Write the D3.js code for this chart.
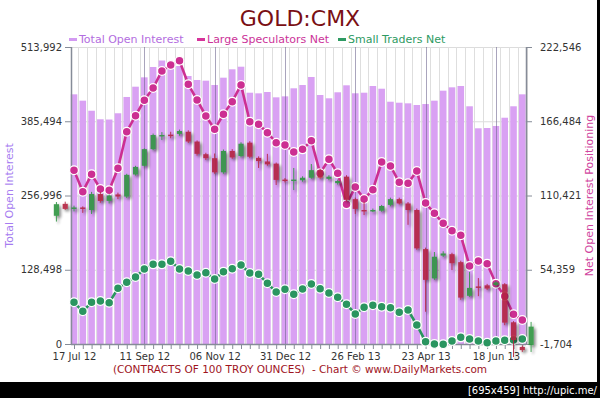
<!DOCTYPE html>
<html>
<head>
<meta charset="utf-8">
<script src="https://cdn.jsdelivr.net/npm/d3@7"></script>
<style>
  body { margin: 0; background: #fff; }
  svg { display: block; font-family: "DejaVu Sans", Verdana, sans-serif; }
</style>
</head>
<body>
<svg></svg>
<script>
// weekly COT data, first report week
const firstWeek = "2012-07-17";

const openInterest = [432100, 421100, 403700, 388900, 388500, 399300, 427500, 445300, 461500, 479400,
  490600, 488000, 481100, 463800, 456900, 455700, 448200, 460900, 475400, 479900,
  434900, 433800, 436100, 426900, 428600, 442500, 448200, 462100, 430900, 425200,
  435600, 447700, 433900, 434900, 446500, 441800, 419300, 417600, 416500, 413600,
  415300, 421100, 438400, 444200, 446500, 411400, 373300, 373800, 377300, 391600,
  411400, 432100];

const largeSpeculators = [129450, 113290, 126430, 115330, 114350, 130960, 158590, 170670, 182300, 191590,
  204420, 208950, 212200, 194380, 182530, 170450, 160410, 171730, 181250, 193860,
  166150, 164180, 157840, 150290, 148550, 143270, 145300, 151790, 127180, 137750,
  127180, 103770, 116840, 107780, 114800, 135720, 132700, 120390, 119640, 128920,
  104760, 96980, 89430, 83850, 80370, 57190, 60970, 58930, 43830, 34310,
  20720, 16420];

const smallTraders = [29780, 22990, 29780, 30760, 29480, 40350, 44880, 48880, 54920, 58470,
  58470, 60740, 54920, 53410, 50390, 52130, 47380, 52890, 55150, 57950,
  51900, 50920, 44130, 37560, 39600, 35820, 39830, 43600, 40050, 36800,
  33560, 28270, 20950, 26010, 27520, 26460, 25710, 22230, 23970, 12640,
  30, -1700, -1930, 560, 3350, 2070, 560, -720, 560, 1090,
  1320, 2070];

// weekly gold price candles (unlabelled overlay), first candle week
const candleStart = "2012-07-03";
const candleOpen = [1554, 1587, 1573, 1577, 1570, 1614, 1595, 1613, 1607, 1668, 1692, 1738, 1776, 1778, 1780,
  1786, 1759, 1724, 1713, 1674, 1733, 1719, 1756, 1714, 1704, 1698, 1654, 1651, 1652, 1659,
  1680, 1656, 1644, 1662, 1600, 1570, 1568, 1568, 1584, 1600, 1588, 1570, 1462, 1381, 1444,
  1448, 1426, 1333, 1359, 1362, 1363, 1365, 1260, 1192, 1197];
const candleClose = [1586, 1573, 1577, 1573, 1614, 1595, 1610, 1607, 1667, 1689, 1738, 1777, 1777, 1777, 1788,
  1759, 1725, 1713, 1674, 1733, 1715, 1753, 1717, 1705, 1696, 1653, 1651, 1654, 1659, 1680,
  1659, 1662, 1650, 1598, 1573, 1568, 1570, 1581, 1600, 1588, 1570, 1464, 1377, 1441, 1450,
  1423, 1328, 1355, 1356, 1353, 1370, 1259, 1211, 1183, 1248];
const candleHigh = [1592, 1593, 1582, 1580, 1620, 1620, 1613, 1618, 1670, 1692, 1740, 1781, 1785, 1786, 1792,
  1790, 1762, 1728, 1726, 1737, 1738, 1757, 1760, 1718, 1725, 1701, 1658, 1686, 1663, 1697,
  1684, 1666, 1654, 1666, 1604, 1593, 1574, 1584, 1604, 1604, 1592, 1574, 1466, 1454, 1456,
  1452, 1430, 1399, 1382, 1366, 1374, 1368, 1263, 1196, 1261];
const candleLow = [1538, 1570, 1566, 1562, 1559, 1590, 1588, 1600, 1603, 1665, 1690, 1735, 1763, 1768, 1775,
  1755, 1720, 1708, 1670, 1670, 1711, 1715, 1713, 1686, 1692, 1639, 1646, 1625, 1648, 1656,
  1655, 1652, 1640, 1593, 1559, 1556, 1564, 1565, 1580, 1585, 1529, 1460, 1289, 1377, 1440,
  1404, 1322, 1330, 1332, 1349, 1360, 1252, 1164, 1178, 1178];

const leftTicks = [0, 128498, 256996, 385494, 513992];
const rightTicks = [-1704, 54359, 110421, 166484, 222546];
// one label every 8 report weeks
const xTickLabels = ["17 Jul 12", "11 Sep 12", "06 Nov 12", "31 Dec 12", "26 Feb 13", "23 Apr 13", "18 Jun 13"];
const labelEvery = 8;

const width = 600, height = 398;
const plotLeft = 71, plotRight = 526, plotTop = 47, plotBottom = 344;

const parseDay = d3.utcParse("%Y-%m-%d");
const weeks = openInterest.map((d, i) => d3.utcDay.offset(parseDay(firstWeek), 7 * i));
const candleWeeks = candleOpen.map((d, i) => d3.utcDay.offset(parseDay(candleStart), 7 * i));
const majorWeeks = weeks.filter((d, i) => i % labelEvery === 0);

const fmt = d3.formatLocale({decimal: ".", thousands: ",", grouping: [3], currency: ["$", ""], minus: "-"}).format(",");

const x = d3.scaleUtc()
  .domain([weeks[0], weeks[weeks.length - 1]])
  .range([74, 522.3]);
const step = x(weeks[1]) - x(weeks[0]);

const yLeft = d3.scaleLinear().domain([0, 513992]).range([plotBottom, plotTop]);
const yRight = d3.scaleLinear().domain([-1704, 222546]).range([plotBottom, plotTop]);
const yPrice = d3.scaleLinear().domain([1200, 2020]).range([plotBottom, plotTop]);

const svg = d3.select("svg")
  .attr("width", width)
  .attr("height", height)
  .attr("viewBox", [0, 0, width, height]);

const defs = svg.append("defs");
const f = defs.append("filter").attr("id", "soft").attr("x", "-60%").attr("y", "-30%").attr("width", "220%").attr("height", "160%");
f.append("feGaussianBlur").attr("in", "SourceAlpha").attr("stdDeviation", 1.8).attr("result", "b");
f.append("feOffset").attr("in", "b").attr("dx", 1.5).attr("dy", 1.5).attr("result", "o");
f.append("feComponentTransfer").attr("in", "o").attr("result", "s")
  .append("feFuncA").attr("type", "linear").attr("slope", 0.5);
f.append("feGaussianBlur").attr("in", "SourceGraphic").attr("stdDeviation", 0.5).attr("result", "g");
const fm = f.append("feMerge");
fm.append("feMergeNode").attr("in", "s");
fm.append("feMergeNode").attr("in", "g");

svg.append("rect").attr("width", width).attr("height", height).attr("fill", "#fff");

// title and legend
svg.append("text")
  .attr("x", 300).attr("y", 26)
  .attr("text-anchor", "middle")
  .attr("fill", "#7a0f14")
  .style("font-size", "22px")
  .text("GOLD:CMX");

const legendItems = [
  {name: "Total Open Interest", mark: "#d39af2", text: "#b36de0", x: 69},
  {name: "Large Speculators Net", mark: "#d6339a", text: "#cc3399", x: 197},
  {name: "Small Traders Net", mark: "#2e9a62", text: "#2e9a62", x: 338}
];
const legend = svg.append("g");
legend.selectAll("rect").data(legendItems).join("rect")
  .attr("x", d => d.x).attr("y", 38).attr("width", 8).attr("height", 3)
  .attr("fill", d => d.mark);
legend.selectAll("text").data(legendItems).join("text")
  .attr("x", d => d.x + 10).attr("y", 43)
  .attr("fill", d => d.text)
  .style("font-size", "11px")
  .text(d => d.name);

// grid
svg.append("g")
  .selectAll("line")
  .data(leftTicks.slice(1))
  .join("line")
  .attr("x1", plotLeft).attr("x2", plotRight)
  .attr("y1", d => yLeft(d) + 0.5).attr("y2", d => yLeft(d) + 0.5)
  .attr("stroke", "#dcdcdc");

svg.append("g")
  .selectAll("line")
  .data(weeks)
  .join("line")
  .attr("x1", d => Math.round(x(d) + step / 2) + 0.5).attr("x2", d => Math.round(x(d) + step / 2) + 0.5)
  .attr("y1", plotTop).attr("y2", plotBottom)
  .attr("stroke", "#dedede");

// open interest bars
svg.append("g")
  .selectAll("rect")
  .data(openInterest)
  .join("rect")
  .attr("x", (d, i) => x(weeks[i]) - 3.3)
  .attr("width", 6.6)
  .attr("y", d => yLeft(d))
  .attr("height", d => yLeft(0) - yLeft(d))
  .attr("fill", "#d9a1f3");

// major vertical grid over bars
svg.append("g")
  .selectAll("line")
  .data(majorWeeks.slice(1))
  .join("line")
  .attr("x1", d => Math.round(x(d)) + 0.5).attr("x2", d => Math.round(x(d)) + 0.5)
  .attr("y1", plotTop).attr("y2", plotBottom)
  .attr("stroke", "#6f6790").attr("stroke-opacity", 0.6);

// axes
const axisColor = "#868c98";
svg.append("line").attr("x1", plotLeft + 0.5).attr("x2", plotLeft + 0.5).attr("y1", plotTop).attr("y2", plotBottom).attr("stroke", axisColor).attr("stroke-width", 1.5);
svg.append("line").attr("x1", plotRight + 0.5).attr("x2", plotRight + 0.5).attr("y1", plotTop).attr("y2", plotBottom).attr("stroke", axisColor).attr("stroke-width", 1.5);
svg.append("line").attr("x1", plotLeft).attr("x2", plotRight).attr("y1", plotBottom + 0.5).attr("y2", plotBottom + 0.5).attr("stroke", axisColor).attr("stroke-width", 1.5);

svg.append("g")
  .attr("transform", `translate(${plotLeft},0)`)
  .call(d3.axisLeft(yLeft).tickValues(leftTicks).tickSize(6).tickPadding(3).tickFormat(fmt))
  .call(g => g.select(".domain").remove())
  .call(g => g.selectAll(".tick line").attr("stroke", axisColor))
  .call(g => g.selectAll(".tick text").attr("fill", "#333").style("font-size", "10px").style("font-family", "DejaVu Sans"));

svg.append("g")
  .attr("transform", `translate(${plotRight},0)`)
  .call(d3.axisRight(yRight).tickValues(rightTicks).tickSize(6).tickPadding(8).tickFormat(fmt))
  .call(g => g.select(".domain").remove())
  .call(g => g.selectAll(".tick line").attr("stroke", axisColor))
  .call(g => g.selectAll(".tick text").attr("fill", "#333").style("font-size", "10px").style("font-family", "DejaVu Sans"));

svg.append("g")
  .attr("transform", `translate(0,${plotBottom})`)
  .call(d3.axisBottom(x).tickValues(weeks).tickSize(5).tickPadding(4)
    .tickFormat((d, i) => i % labelEvery === 0 ? xTickLabels[i / labelEvery] : ""))
  .call(g => g.select(".domain").remove())
  .call(g => g.selectAll(".tick line").attr("stroke", axisColor))
  .call(g => g.selectAll(".tick text").attr("fill", "#333").style("font-size", "10px").style("font-family", "DejaVu Sans"));

svg.append("text")
  .attr("transform", `translate(13,${(plotTop + plotBottom) / 2}) rotate(-90)`)
  .attr("text-anchor", "middle")
  .attr("fill", "#a67cf0")
  .style("font-size", "11px")
  .text("Total Open Interest");

svg.append("text")
  .attr("transform", `translate(593,${(plotTop + plotBottom) / 2}) rotate(-90)`)
  .attr("text-anchor", "middle")
  .attr("fill", "#d0449e")
  .style("font-size", "11px")
  .text("Net Open Interest Positioning");

// net position lines
function drawSeries(values, color) {
  const line = d3.line()
    .x((d, i) => x(weeks[i]))
    .y(d => yRight(d));
  const g = svg.append("g");
  g.append("path")
    .datum(values)
    .attr("fill", "none")
    .attr("stroke", color)
    .attr("stroke-width", 2.6)
    .attr("d", line);
  g.selectAll("circle")
    .data(values)
    .join("circle")
    .attr("cx", (d, i) => x(weeks[i]))
    .attr("cy", d => yRight(d))
    .attr("r", 4.4)
    .attr("fill", color)
    .attr("stroke", "#fff")
    .attr("stroke-width", 1.3);
}
drawSeries(smallTraders, "#2a9560");
drawSeries(largeSpeculators, "#cc2f92");

// price candles
const candles = svg.append("g").attr("filter", "url(#soft)").attr("opacity", 0.9);
candleOpen.forEach((o, i) => {
  const c = candleClose[i];
  const cx = x(candleWeeks[i]);
  const col = c >= o ? "#2f9440" : "#b3243f";
  candles.append("line")
    .attr("x1", cx).attr("x2", cx)
    .attr("y1", yPrice(candleHigh[i])).attr("y2", yPrice(candleLow[i]))
    .attr("stroke", col).attr("stroke-width", 1);
  const top = yPrice(Math.max(o, c)), bot = yPrice(Math.min(o, c));
  candles.append("rect")
    .attr("x", cx - 2.6).attr("width", 5.2)
    .attr("y", top).attr("height", Math.max(bot - top, 1.5))
    .attr("fill", col);
});

// footer
svg.append("text")
  .attr("x", 300).attr("y", 373)
  .attr("text-anchor", "middle")
  .attr("fill", "#a0141e")
  .style("font-size", "10.5px")
  .style("white-space", "pre")
  .text("(CONTRACTS OF 100 TROY OUNCES)  - Chart \u00a9 www.DailyMarkets.com");

// image frame
svg.append("rect").attr("x", 0).attr("y", 382).attr("width", width).attr("height", 16).attr("fill", "#000");
svg.append("rect").attr("x", 597).attr("y", 0).attr("width", 3).attr("height", height).attr("fill", "#000");
svg.append("text")
  .attr("x", 597).attr("y", 394)
  .attr("text-anchor", "end")
  .attr("fill", "#fff")
  .style("font-size", "10px")
  .text("[695x459] http://upic.me/");
</script>
</body>
</html>
